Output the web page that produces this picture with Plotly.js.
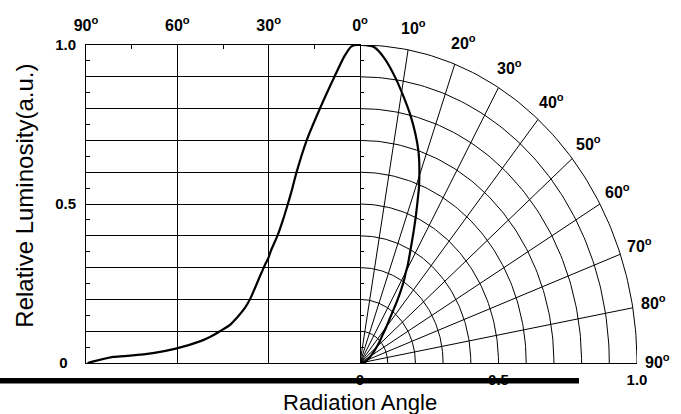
<!DOCTYPE html>
<html><head><meta charset="utf-8">
<script src="https://cdn.plot.ly/plotly-3.0.1.min.js"></script>
<style>html,body{margin:0;padding:0;background:#fff}#chart{width:681px;height:414px}</style>
</head><body><div id="chart"></div>
<script>
// ---- data ----
const angleDeg   = [89.5, 81, 75.5, 68, 60.5, 52.6, 49.3, 46, 42.7, 40, 37.8, 36.1, 34.5, 32.9, 31.2, 30.1, 29.3, 27, 25.3, 23.7, 22.2, 20.9, 17.6, 13.3, 8.4, 5.1, 2.9, 1.2, 0];
const luminosity = [0.0, 0.019, 0.023, 0.031, 0.045, 0.068, 0.082, 0.10, 0.12, 0.147, 0.173, 0.201, 0.236, 0.272, 0.309, 0.33, 0.352, 0.403, 0.45, 0.50, 0.55, 0.598, 0.698, 0.797, 0.90, 0.965, 0.995, 1.0, 1.0];
const topTickAngles = [90, 60, 30, 0];
const topMinorAngles = [75, 45, 15];
const polarLabelAngles = [10, 20, 30, 40, 50, 60, 70, 80, 90];
const spokeAngles = [10, 20, 30, 40, 50, 60, 70, 80];
const ringRadii = [0.1, 0.2, 0.3, 0.4, 0.5, 0.6, 0.7, 0.8, 0.9, 1.0];
const yGridVals = [0, 0.1, 0.2, 0.3, 0.4, 0.5, 0.6, 0.7, 0.8, 0.9, 1.0];
const yTickText = ['0\u00a0\u00a0', '', '', '', '', '0.5', '', '', '', '', '1.0'];
const yMinorVals = [0.05, 0.15, 0.25, 0.35, 0.45, 0.55, 0.65, 0.75, 0.85, 0.95];
const rTickVals = [0, 0.5, 1.0];
const rTickText = ['0', '0.5', '1.0'];

// ---- helpers ----
const rad = d => d * Math.PI / 180;
const FONT = 'Liberation Sans, Arial, Helvetica, sans-serif';
const tickFont = {family: FONT, size: 15, color: '#000', weight: 'bold'};
const angFont = {family: FONT, size: 16, color: '#000', weight: 'bold'};

// polar curve from the same data
const polX = angleDeg.map((a, i) => luminosity[i] * Math.sin(rad(a)));
const polY = angleDeg.map((a, i) => luminosity[i] * Math.cos(rad(a)));

// polar grid (quarter, drawn on the right subplot)
const ringX = [], ringY = [];
ringRadii.forEach(r => {
  for (let a = 0; a <= 90; a += 1) { ringX.push(r * Math.sin(rad(a))); ringY.push(r * Math.cos(rad(a))); }
  ringX.push(null); ringY.push(null);
});
const spokeX = [], spokeY = [];
spokeAngles.forEach(a => {
  spokeX.push(0, Math.sin(rad(a)), null); spokeY.push(0, Math.cos(rad(a)), null);
});

const traces = [
  {x: ringX, y: ringY, xaxis: 'x2', yaxis: 'y2', mode: 'lines', line: {color: '#000', width: 1}, hoverinfo: 'skip'},
  {x: spokeX, y: spokeY, xaxis: 'x2', yaxis: 'y2', mode: 'lines', line: {color: '#000', width: 1}, hoverinfo: 'skip'},
  {x: angleDeg, y: luminosity, xaxis: 'x', yaxis: 'y', mode: 'lines', line: {color: '#000', width: 2.2, shape: 'spline', smoothing: 0.7}},
  {x: polX, y: polY, xaxis: 'x2', yaxis: 'y2', mode: 'lines', line: {color: '#000', width: 2.2, shape: 'spline', smoothing: 0.7}}
];

const leftFrac = 274 / 551;
const R_LABEL = 1.067;
const annotations = polarLabelAngles.map(a => ({
  xref: 'paper', yref: 'paper',
  x: leftFrac + R_LABEL * Math.sin(rad(a)) * (1 - leftFrac), y: R_LABEL * Math.cos(rad(a)),
  text: a + '<sup>o</sup>', showarrow: false, xanchor: 'center', yanchor: 'middle',
  xshift: 2, yshift: 2, font: angFont
}));
annotations.push({
  xref: 'paper', yref: 'paper', x: leftFrac, y: -0.124, xanchor: 'center', yanchor: 'middle',
  text: 'Radiation Angle', showarrow: false, font: {family: FONT, size: 22, color: '#000'}
});
annotations.push({
  xref: 'paper', yref: 'paper', x: (25 - 86) / 551, y: (363.3 - 196) / 318, xanchor: 'center', yanchor: 'middle',
  textangle: -90, text: 'Relative Luminosity(a.u.)', showarrow: false, font: {family: FONT, size: 24, color: '#000'}
});

const layout = {
  width: 681, height: 414,
  margin: {l: 86, r: 44, t: 45, b: 51},
  paper_bgcolor: '#fff', plot_bgcolor: '#fff',
  showlegend: false,
  font: {family: FONT, color: '#000'},
  xaxis: {
    domain: [0, leftFrac], range: [90, 0], side: 'top', anchor: 'y',
    tickmode: 'array', tickvals: topTickAngles, ticktext: topTickAngles.map(a => a + '<sup>o</sup>'),
    tickfont: angFont, ticks: '', ticklabelstandoff: 7,
    showgrid: true, gridcolor: '#000', gridwidth: 1, zeroline: false,
    showline: true, linecolor: '#000', linewidth: 1, mirror: true,
    minor: {tickmode: 'array', tickvals: topMinorAngles, ticks: 'inside', ticklen: 4, tickcolor: '#000', tickwidth: 1, showgrid: false},
    fixedrange: true
  },
  yaxis: {
    domain: [0, 1], range: [0, 1], anchor: 'x',
    tickmode: 'array', tickvals: yGridVals, ticktext: yTickText,
    tickfont: tickFont, ticks: '', ticklabelstandoff: 6,
    showgrid: true, gridcolor: '#000', gridwidth: 1, zeroline: false,
    showline: true, linecolor: '#000', linewidth: 1, mirror: true,
    minor: {tickmode: 'array', tickvals: yMinorVals, ticks: 'inside', ticklen: 4, tickcolor: '#000', tickwidth: 1, showgrid: false},
    fixedrange: true
  },
  xaxis2: {
    domain: [leftFrac, 1], range: [0, 1], anchor: 'y2', side: 'bottom',
    tickmode: 'array', tickvals: rTickVals, ticktext: rTickText,
    tickfont: tickFont, ticks: '', ticklabelstandoff: 3,
    showgrid: false, zeroline: false,
    showline: true, linecolor: '#000', linewidth: 1,
    fixedrange: true
  },
  yaxis2: {
    domain: [0, 1], range: [0, 1], anchor: 'x2',
    showticklabels: false, ticks: '', showgrid: false, zeroline: false, showline: false,
    minor: {tickmode: 'array', tickvals: yMinorVals, ticks: 'inside', ticklen: 4, tickcolor: '#000', tickwidth: 1, showgrid: false},
    fixedrange: true
  },
  shapes: [{
    type: 'line', xref: 'paper', yref: 'paper', layer: 'above',
    x0: -86 / 551, x1: (579 - 86) / 551, y0: -17.8 / 318, y1: -17.8 / 318,
    line: {color: '#000', width: 5.5}
  }],
  annotations: annotations
};

Plotly.newPlot('chart', traces, layout, {displayModeBar: false, staticPlot: true});
</script>
</body></html>
